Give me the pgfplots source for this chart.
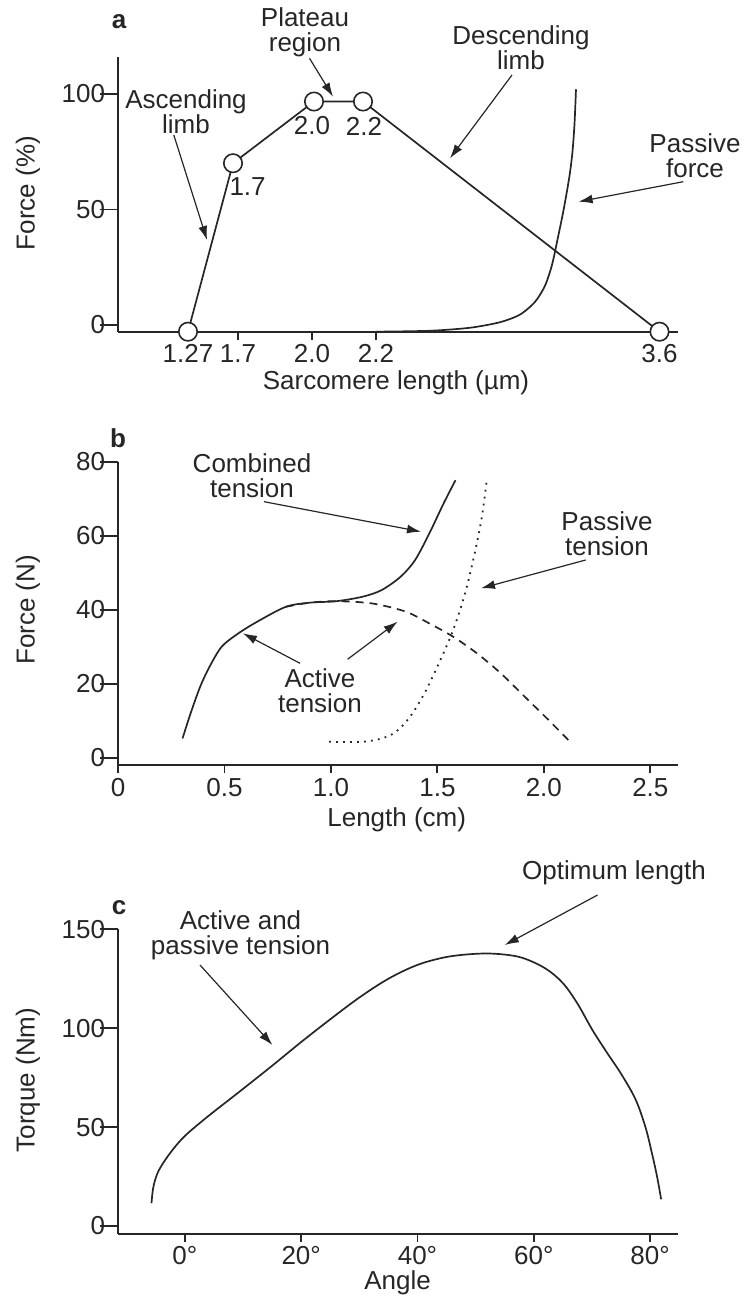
\documentclass[border=0pt]{standalone}
\usepackage{fontspec}
\setmainfont{Liberation Sans}
\usepackage{pgfplots}
\pgfplotsset{compat=1.18}
\usetikzlibrary{arrows.meta}
\definecolor{ink}{gray}{0.15}
\newcommand{\fs}{\fontsize{13}{12.5}\selectfont}

\pgfplotsset{
  panel/.style={
    scale only axis, width=280pt, anchor=south west,
    axis x line*=bottom, axis y line*=left,
    axis line style={-, line width=1pt, ink},
    tick align=outside,
    xtick style={line width=0.9pt, ink, /pgfplots/major tick length=4pt},
    ytick style={line width=0.9pt, ink, /pgfplots/major tick length=9pt},
    tick label style={font=\fs, text=ink},
    xticklabel style={inner ysep=2pt},
    yticklabel style={inner xsep=2pt},
    clip=false,
  },
  curve/.style={line width=0.85pt, ink, no markers},
}

\begin{document}
\begin{tikzpicture}
\path[use as bounding box] (0,0) rectangle (371.5pt,648pt);

% ---------------- panel a ----------------
\begin{axis}[panel, at={(59pt,482.15pt)}, height=137.5pt,
  xmin=118, xmax=678, ymin=-2.9, ymax=116.1,
  xtick={188,238,312,376,659.5}, xticklabels={1.27,1.7,2.0,2.2,3.6},
  ytick={0,50,100}, yticklabels={0,50,100}]
\addplot[curve, smooth, tension=0.45] coordinates {
 (376,-2.9) (430,-2.5) (470,-1.2) (500,1.2) (520,4.5) (535,10) (545,17)
 (552,26) (558,38) (563,48.5) (567,58) (570,66) (572.5,75) (574.5,87) (576,102)};
\addplot[line width=0.85pt, ink, mark=*, mark size=4.6pt,
  mark options={fill=white, draw=ink, line width=0.8pt}] coordinates {
 (188,-2.9) (233,70) (314,96.7) (363,96.7) (659.5,-2.9)};
\end{axis}

% ---------------- panel b ----------------
\begin{axis}[panel, at={(59pt,265.25pt)}, height=151.9pt,
  xmin=0, xmax=2.63, ymin=-2.1, ymax=80,
  xtick={0,0.5,1,1.5,2,2.5}, xticklabels={0,0.5,1.0,1.5,2.0,2.5},
  ytick={0,20,40,60,80}, yticklabels={0,20,40,60,80}]
\addplot[curve, smooth, tension=0.5] coordinates {
 (0.303,5.2) (0.341,12.0) (0.386,19.2) (0.430,24.6) (0.487,30.0) (0.565,33.6)
 (0.655,36.8) (0.789,40.8) (0.901,41.9) (1.025,42.3) (1.148,43.5) (1.238,45.3)
 (1.327,48.9) (1.395,53.4) (1.462,60.6) (1.529,68.7) (1.585,75.0)};
\addplot[curve, smooth, tension=0.5, dash pattern=on 4pt off 3pt] coordinates {
 (0.789,40.8) (0.901,41.9) (1.025,42.3) (1.193,41.7) (1.35,39.5) (1.462,36.3)
 (1.574,32.7) (1.686,28.2) (1.798,22.8) (1.91,16.5) (2.022,10.2) (2.123,4.3)};
\addplot[curve, smooth, tension=0.5, line width=0.9pt, dash pattern=on 0.9pt off 2.6pt] coordinates {
 (0.991,4.3) (1.148,4.3) (1.238,5.2) (1.305,7.0) (1.372,11.1) (1.439,17.4)
 (1.507,25.5) (1.574,34.5) (1.63,44.4) (1.675,55.2) (1.709,65.1) (1.731,74.6)};
\end{axis}

% ---------------- panel c ----------------
\begin{axis}[panel, at={(59pt,31.25pt)}, height=152.1pt,
  xmin=-11.5, xmax=84.8, ymin=-3.8, ymax=150,
  xtick={0,20,40,60,80}, xticklabels={0°,20°,40°,60°,80°},
  ytick={0,50,100,150}, yticklabels={0,50,100,150}]
\addplot[curve, smooth, tension=0.55] coordinates {
 (-5.74,11.5) (-5.4,20) (-4.5,28) (-2.5,37) (0,45.5) (4,55.5) (9,67)
 (15,81) (20,93) (25,104.5) (30,115.5) (35,125) (40,132) (45,136)
 (50,137.6) (54,137.5) (58,135.6) (62,130.2) (65,122.8) (67.5,112.5)
 (70,99.5) (72.5,88) (75,77) (77.5,64) (79.2,50) (80.3,37) (81.2,25) (81.9,13.5)};
\end{axis}

% ---------------- annotations (reference pixel coordinates) ----------------
\begin{scope}[x=0.5pt, y=-0.5pt, yshift=648pt,
  every node/.style={font=\fs, text=ink, inner sep=0pt, align=center},
  arr/.style={-{Latex[length=7pt,width=4.5pt]}, line width=0.6pt, ink}]
% a
\node[font=\fs\bfseries] at (119,21.7) {a};
\node at (305,32.5) {Plateau\\region};
\draw[arr] (309.5,58.3) -- (333,96.7);
\node at (186,111.3) {Ascending\\limb};
\draw[arr] (173.8,135) -- (207,240);
\node at (247.6,186.7) {1.7};
\node at (312,126) {2.0};
\node at (364,126) {2.2};
\node at (521,47.5) {Descending\\limb};
\draw[arr] (512,75) -- (450,158.3);
\node at (695,155.8) {Passive\\force};
\draw[arr] (683.3,181.7) -- (578.6,201.7);
\node[rotate=90] at (28,193) {Force (\%)};
\node at (396,383) {Sarcomere length (µm)};
% b
\node[font=\fs\bfseries] at (118,438) {b};
\node at (252,475.5) {Combined\\tension};
\draw[arr] (264,501.7) -- (421,531.7);
\node at (607,534.2) {Passive\\tension};
\draw[arr] (585.7,560) -- (481,588.3);
\node at (320,690.5) {Active\\tension};
\draw[arr] (300,663.3) -- (242.9,633.3);
\draw[arr] (347.6,659.3) -- (397.6,621.7);
\node[rotate=90] at (28,610) {Force (N)};
\node at (396.7,820) {Length (cm)};
% c
\node[font=\fs\bfseries] at (119,908) {c};
\node at (240.5,935.5) {Active and\\passive tension};
\draw[arr] (200,965) -- (272.4,1045);
\node at (614,873) {Optimum length};
\draw[arr] (597.6,895) -- (504.8,945);
\node[rotate=90] at (28,1080) {Torque (Nm)};
\node at (397.6,1283) {Angle};
\end{scope}
\end{tikzpicture}
\end{document}
